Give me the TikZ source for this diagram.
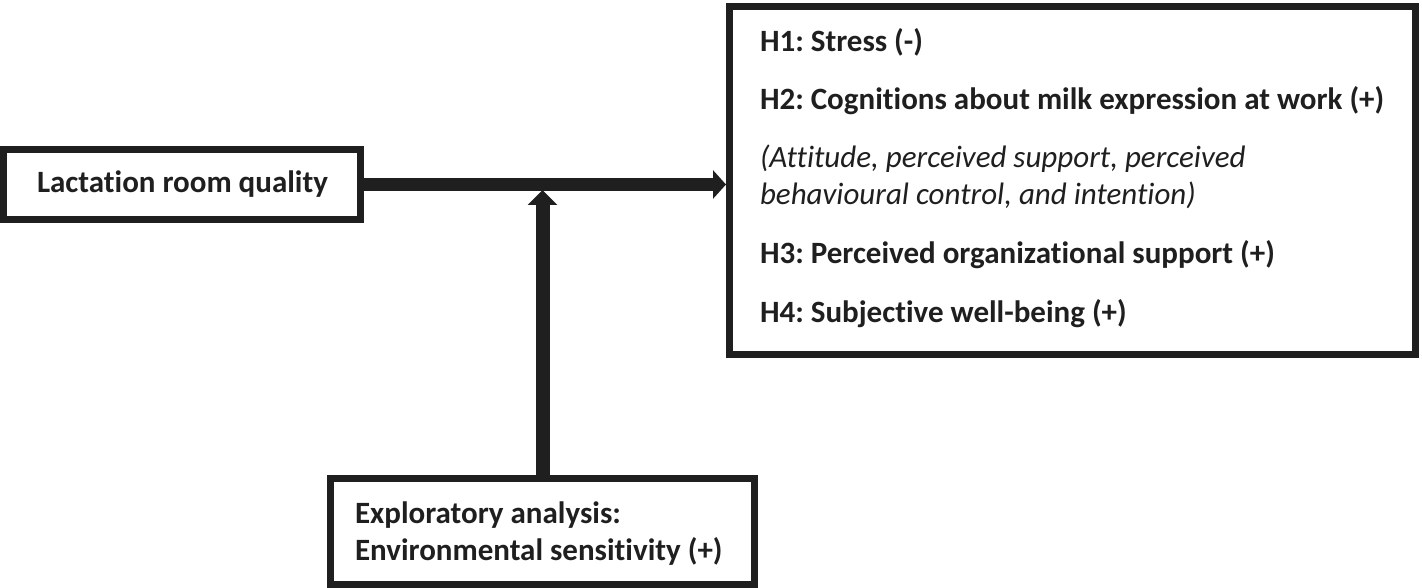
\documentclass[tikz,border=0pt]{standalone}
\usepackage{fontspec}
\setmainfont{Carlito}[Ligatures=NoCommon]
\frenchspacing
\usetikzlibrary{arrows.meta}
\tikzset{
  box/.style={draw=black!88, line width=7pt, rectangle, inner sep=0pt, fill=white},
  txt/.style={anchor=base west, inner sep=0pt, outer sep=0pt, font=\fontsize{31}{37}\selectfont\bfseries, text=black!88},
  itxt/.style={txt, font=\fontsize{31}{37}\selectfont\itshape},
  conn/.style={draw=black!88, line width=13pt},
}
\begin{document}
\begin{tikzpicture}[x=1pt,y=-1pt]
\useasboundingbox (0,0) rectangle (1422,588);
% boxes
\node[box, minimum width=357pt, minimum height=70pt] (lrq) at (182,184.5) {};
\node[box, minimum width=686pt, minimum height=348pt] (out) at (1072.5,180.5) {};
\node[box, minimum width=424pt, minimum height=106pt] (mod) at (542.5,531.5) {};
% texts
\node[txt] (tlrq) at (37,193) {Lactation room quality};
\node[txt] (h1) at (760,52) {H1: Stress (-)};
\node[txt] (h2) at (760,110) {H2: Cognitions about milk expression at work (+)};
\node[itxt] (h2a) at (760,168) {(Attitude, perceived support, perceived};
\node[itxt] (h2b) at (760,205) {behavioural control, and intention)};
\node[txt] (h3) at (760,263) {H3: Perceived organizational support (+)};
\node[txt] (h4) at (760,322) {H4: Subjective well-being (+)};
\node[txt] (m1) at (355,523) {Exploratory analysis:};
\node[txt] (m2) at (355,560) {Environmental sensitivity (+)};
% connectors
\coordinate (hit) at (543,190);
\draw[conn, -{Triangle[length=13pt,width=28pt]}] (lrq.east) -- (lrq.east -| out.west);
\draw[conn, line width=14pt, -{Triangle[length=15pt,width=29pt]}] (mod.north) -- (mod.north |- hit);
\end{tikzpicture}
\end{document}
